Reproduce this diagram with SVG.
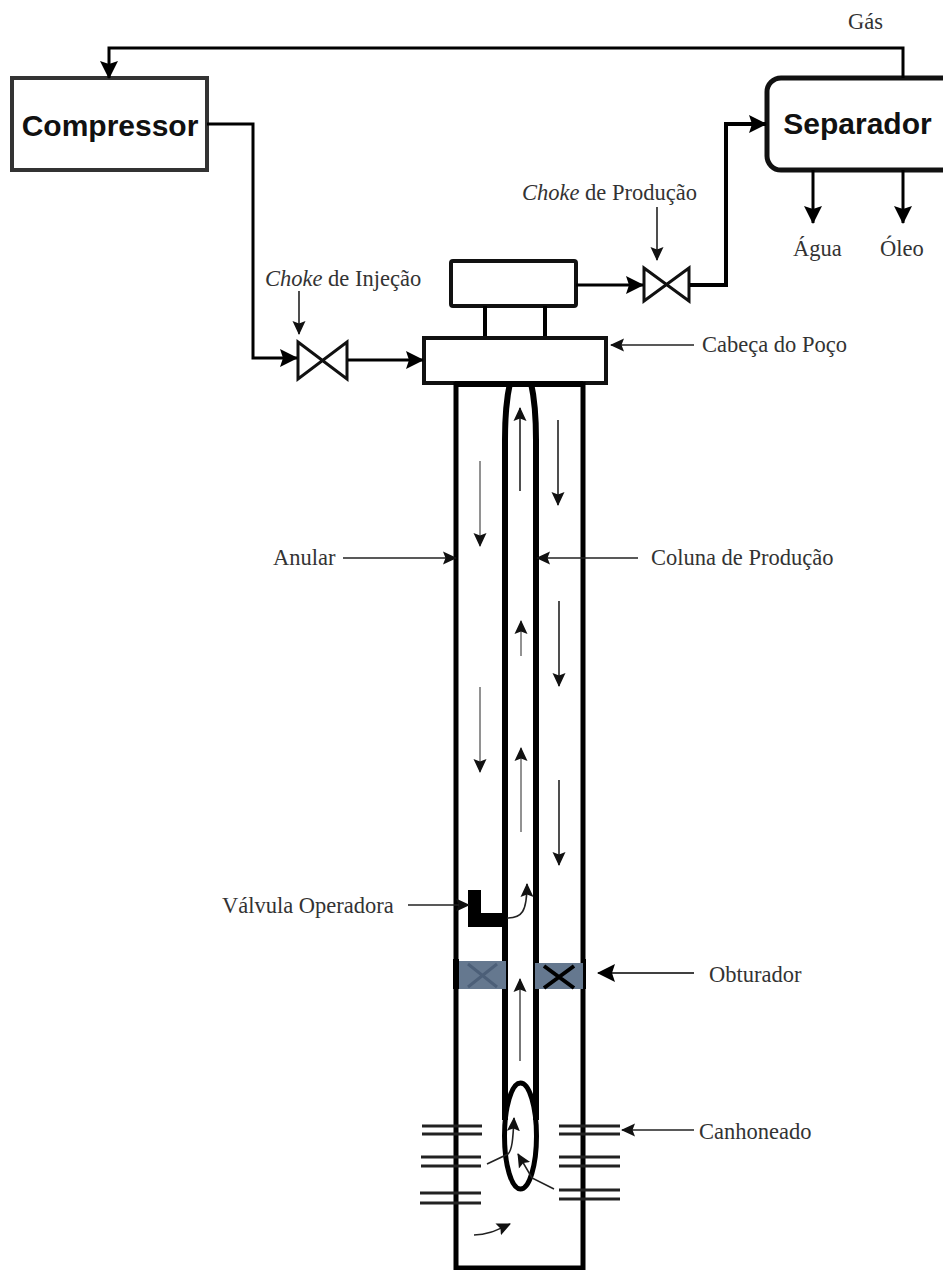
<svg xmlns="http://www.w3.org/2000/svg" width="943" height="1270" viewBox="0 0 943 1270">
<style>
.box{fill:#fff;stroke:#111;stroke-width:4}
.wall{fill:none;stroke:#000;stroke-width:5}
.big{fill:none;stroke:#000;stroke-width:3;marker-end:url(#bh)}
.thin{fill:none;stroke:#222;stroke-width:1.6;marker-end:url(#sh)}
.grey{stroke:#777}
.perf{fill:none;stroke:#222;stroke-width:3}
.valve{fill:#fff;stroke:#111;stroke-width:3}
.t{font-family:"Liberation Serif",serif;font-size:22.5px;fill:#333}
.b{font-family:"Liberation Sans",Arial,sans-serif;font-size:30px;font-weight:bold;fill:#111;text-anchor:middle}
</style>
<defs>
<marker id="bh" markerUnits="userSpaceOnUse" markerWidth="22" markerHeight="22" refX="17" refY="10" orient="auto"><path d="M0,1 L18,10 L0,19 L3,10Z" fill="#000"/></marker>
<marker id="sh" markerUnits="userSpaceOnUse" markerWidth="16" markerHeight="16" refX="13" refY="7.500" orient="auto"><path d="M0,1 L14,7.500 L0,14 L2.500,7.500Z" fill="#111"/></marker>
</defs>

<g id="compressor">
<rect class="box" style="stroke:#333" x="12" y="78" width="195" height="92"/>
<text class="b" x="110" y="136">Compressor</text>
</g>
<g id="separador">
<rect class="box" style="stroke-width:5" x="767" y="78" width="190" height="92" rx="14"/>
<text class="b" x="857.500" y="134">Separador</text>
</g>
<text class="t" x="848" y="29">Gás</text>
<text class="t" x="793" y="256">Água</text>
<text class="t" x="880" y="256">Óleo</text>

<g id="choke-injecao">
<path class="valve" d="M298,342L347,379V342L298,379Z"/>
<text class="t" x="265" y="286"><tspan font-style="italic">Choke</tspan> de Injeção</text>
</g>
<g id="choke-producao">
<path class="valve" d="M644,268L689,301V268L644,301Z"/>
<text class="t" x="522" y="200"><tspan font-style="italic">Choke</tspan> de Produção</text>
</g>

<g id="cabeca">
<rect class="box" x="451" y="261" width="125" height="45" rx="2"/>
<path class="wall" style="stroke-width:4" d="M485,306V337M545,306V337"/>
<rect class="box" x="424" y="338" width="182" height="45"/>
<text class="t" x="702" y="352">Cabeça do Poço</text>
</g>

<g id="poco">
<path class="wall" d="M456,382V1268H583V382"/>
<path class="wall" style="stroke-width:6" d="M455,384H583"/>
<path class="wall" style="stroke-width:6" d="M505,1120V440Q505,405 510,383M536,1120V440Q536,405 531,383"/>
<ellipse class="wall" cx="520.500" cy="1136" rx="16" ry="53"/>
</g>
<text class="t" x="273" y="565">Anular</text>
<text class="t" x="651" y="565">Coluna de Produção</text>

<g id="valvula">
<path d="M468,890H481V913H505V927H468Z" fill="#000"/>
<text class="t" x="222" y="913">Válvula Operadora</text>
</g>

<g id="obturador">
<rect x="453" y="959" width="6" height="30" fill="#000"/>
<rect x="581" y="959" width="5" height="30" fill="#000"/>
<rect x="459" y="961" width="47" height="28" fill="#65788f"/>
<rect x="535" y="963" width="48" height="26" fill="#65788f"/>
<path d="M468,964L497,987M497,964L468,987" fill="none" stroke="#4c5f78" stroke-width="3"/>
<path d="M544,966L574,988M574,966L544,988" fill="none" stroke="#000" stroke-width="4"/>
<text class="t" x="709" y="982">Obturador</text>
</g>

<g id="canhoneado">
<path class="perf" d="M422,1126H482M422,1134H482M421,1157H481M421,1166H481M420,1193H481M420,1203H481"/>
<path class="perf" d="M559,1126H620M559,1134H620M559,1157H620M559,1166H620M559,1190H620M559,1199H620"/>
<text class="t" x="699" y="1139">Canhoneado</text>
</g>

<g id="connectors">
<path class="big" d="M903,78V48H109V78"/>
<path class="big" d="M207,124H253V358H297"/>
<path class="big" d="M348,360H423"/>
<path class="big" d="M576,285H643"/>
<path class="big" style="stroke-width:4" d="M690,285H726V124H766"/>
<path class="big" d="M813,170V223"/>
<path class="big" d="M903,170V223"/>
<path class="thin" d="M299,291V334"/>
<path class="thin" d="M657,207V260"/>
<path class="thin" d="M694,345H611"/>
<path class="thin" d="M343,558H456"/>
<path class="thin" d="M638,558H537"/>
<path class="thin" d="M408,905H469"/>
<path class="big" style="stroke-width:1.600" d="M694,973H598"/>
<path class="thin" d="M694,1130H622"/>
<path class="thin" d="M520,491V408"/>
<path class="thin grey" d="M521,656V621"/>
<path class="thin grey" d="M521,832V748"/>
<path class="thin grey" d="M480,461V546"/>
<path class="thin grey" d="M480,687V772"/>
<path class="thin" d="M558,420V505"/>
<path class="thin" d="M559,601V686"/>
<path class="thin" d="M559,780V865"/>
<path class="thin grey" style="stroke-width:2" d="M520,1061V979"/>
<path class="thin" d="M507,918C522,918 527,912 527,884"/>
<path class="thin" d="M487,1164L508,1154C512,1150 513,1140 514,1118"/>
<path class="thin" d="M554,1189L532,1178L518,1154"/>
<path class="thin" d="M474,1235C488,1235 497,1230 510,1224"/>
</g>
</svg>
